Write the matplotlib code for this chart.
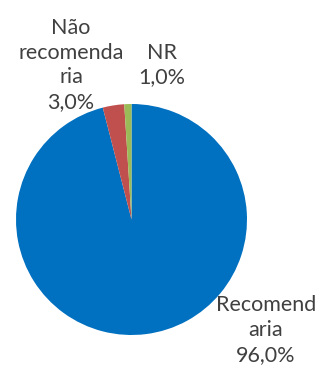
import matplotlib.pyplot as plt

categories = ["Recomendaria", "Não recomendaria", "NR"]
wrapped_labels = ["Recomend\naria", "Não\nrecomenda\nria", "NR"]
percentages = [96.0, 3.0, 1.0]
colors = ["#0070C0", "#C0504D", "#9BBB59"]

# where each label block sits, in pie-radius units from the centre
label_pos = [(1.165, -0.957), (-0.524, 1.338), (0.264, 1.338)]


def fmt_pct(v):
    return f"{v:.1f}%".replace(".", ",")


def main():
    plt.rcParams["font.family"] = ["Lato", "DejaVu Sans"]

    fig = plt.figure(figsize=(3.24, 3.72), dpi=100)
    ax = fig.add_axes([0, 0, 1, 1])

    ax.pie(percentages, colors=colors, startangle=90, counterclock=False,
           radius=1.0, wedgeprops={"linewidth": 0})

    for lab, val, (x, y) in zip(wrapped_labels, percentages, label_pos):
        ax.text(x, y, f"{lab}\n{fmt_pct(val)}", ha="center", va="center",
                fontsize=15.5, color="#404040", linespacing=1.3)

    ax.set_xlim(-1.1385, 1.6667)
    ax.set_ylim(-1.3203, 1.9004)
    ax.set_aspect("equal")
    ax.axis("off")

    fig.savefig("out.png", dpi=100, facecolor="white")


if __name__ == "__main__":
    main()
